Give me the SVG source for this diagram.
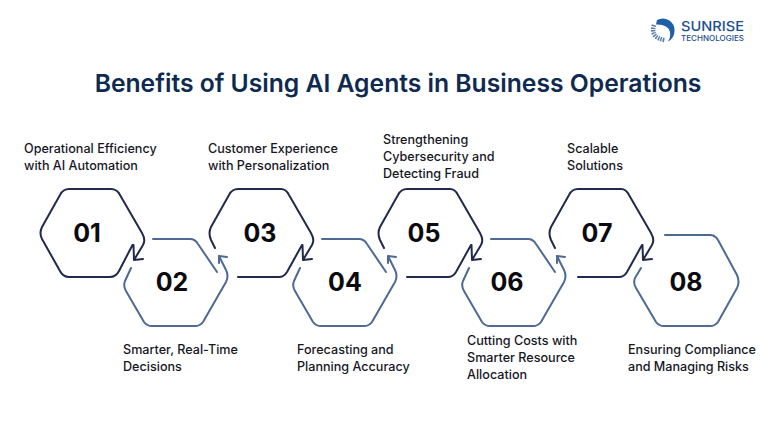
<svg xmlns="http://www.w3.org/2000/svg" width="780" height="437" viewBox="0 0 780 437">
<style>
.a{fill:none;stroke:#1f2a4d;stroke-width:2;stroke-linecap:round;stroke-linejoin:round}
.b{fill:none;stroke:#4d6a94;stroke-width:2;stroke-linecap:round;stroke-linejoin:round}
.n{font-family:Inter,"Liberation Sans",sans-serif;font-weight:700;font-size:25px;fill:#0a0a0f;text-anchor:middle}
.t{font-family:Inter,"Liberation Sans",sans-serif;font-weight:500;font-size:12.600px;fill:#17171f}
</style>
<defs>
<g id="odd"><path class="a" d="M132.5 245L119 271Q116 277 110 277H69Q63 277 60 271L42 239Q39 233 42 227L60 195Q63 189 69 189H111Q117 189 120 195L142 233Q146 240 143 245L134 260M133.500 245L134 260L143 259"/></g>
<g id="even"><path class="b" d="M153 239H190Q195 239 198 244L217 272M131 268L125 281Q123 286 126 291L144 322Q147 326 152 326H195Q200 326 203 322L226 282Q229 276 226 270L219 256M227 257L219 256L219 263"/></g>
</defs>
<text x="398" y="92" text-anchor="middle" font-family="Inter,'Liberation Sans',sans-serif" font-weight="600" font-size="24.700" fill="#0e2a50">Benefits of Using AI Agents in Business Operations</text>
<g id="logo">
<path d="M657 20A11.800 11.800 0 0 1 674.500 31Q674.500 38 668 41.500Q671 37 670 32Q668 24 656 24.500Z" fill="#1d5fa8"/>
<path d="M654 25Q650 38 665 40" fill="none" stroke="#5b7ea8" stroke-width="4.500" stroke-dasharray="1.500 1"/>
<text x="681" y="30.500" font-family="Inter,'Liberation Sans',sans-serif" font-weight="500" font-size="13.500" fill="#1d4f8c" textLength="63" lengthAdjust="spacingAndGlyphs">SUNRISE</text>
<text x="681" y="41" font-family="Inter,'Liberation Sans',sans-serif" font-weight="500" font-size="7.500" fill="#1d4f8c" textLength="63" lengthAdjust="spacingAndGlyphs">TECHNOLOGIES</text>
</g>
<g id="connectors"></g>
<g id="node1"><use href="#odd"/><text class="n" x="87" y="242">01</text><text class="t"><tspan x="24" y="153">Operational Efficiency</tspan><tspan x="24" y="170">with AI Automation</tspan></text></g>
<g id="node2"><use href="#even"/><text class="n" x="172" y="291">02</text><text class="t"><tspan x="123" y="354">Smarter, Real-Time</tspan><tspan x="123" y="371">Decisions</tspan></text></g>
<g id="node3"><path class="a" d="M215 248L211 240Q208 233 211 227L229 195Q232 189 238 189H281Q286 189 289 195L311 233Q315 240 312 245L303 260M302.500 245L303 260L312 259M238 277H279Q284 277 287 272L302 245"/><text class="n" x="260" y="242">03</text><text class="t"><tspan x="208" y="153">Customer Experience</tspan><tspan x="208" y="170">with Personalization</tspan></text></g>
<g id="node4"><use href="#even" x="169"/><text class="n" x="345" y="291">04</text><text class="t"><tspan x="297" y="354">Forecasting and</tspan><tspan x="297" y="371">Planning Accuracy</tspan></text></g>
<g id="node5"><path class="a" d="M384 248L380 240Q377 233 380 227L398 195Q401 189 407 189H450Q455 189 458 195L480 233Q484 240 481 245L472 260M471.500 245L472 260L481 259M407 277H448Q453 277 456 272L471 245"/><text class="n" x="424" y="242">05</text><text class="t"><tspan x="383" y="144">Strengthening</tspan><tspan x="383" y="161">Cybersecurity and</tspan><tspan x="383" y="178">Detecting Fraud</tspan></text></g>
<g id="node6"><use href="#even" x="338"/><text class="n" x="507" y="291">06</text><text class="t"><tspan x="467" y="345">Cutting Costs with</tspan><tspan x="467" y="362">Smarter Resource</tspan><tspan x="467" y="379">Allocation</tspan></text></g>
<g id="node7"><path class="a" d="M555 248L551 240Q548 233 551 227L569 195Q572 189 578 189H621Q626 189 629 195L651 233Q655 240 652 245L643 260M642.500 245L643 260L652 259M578 277H619Q624 277 627 272L642 245"/><text class="n" x="597" y="242">07</text><text class="t"><tspan x="567" y="153">Scalable</tspan><tspan x="567" y="170">Solutions</tspan></text></g>
<g id="node8"><path class="b" d="M665 235H710Q715 235 718 240L737 275Q740 282 737 288L718 322Q715 326 710 326H664Q659 326 656 322L636 288Q633 283 635 278L641 268"/><text class="n" x="686" y="291">08</text><text class="t"><tspan x="628" y="354">Ensuring Compliance</tspan><tspan x="628" y="371">and Managing Risks</tspan></text></g>
</svg>
